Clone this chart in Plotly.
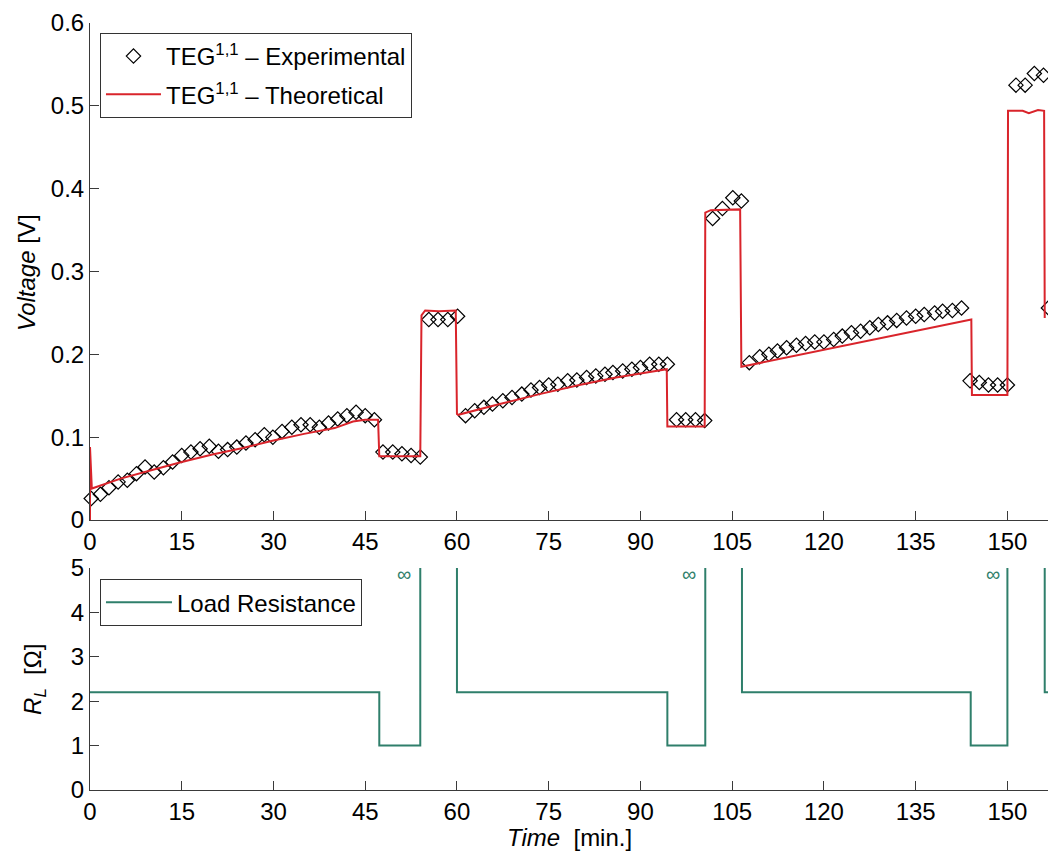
import plotly.graph_objects as go

# ---------------- data ----------------
t_exp = [0.2, 1.7, 3.1, 4.6, 6.1, 7.6, 9.0, 10.5, 12.0, 13.5, 15.0, 16.5, 18.0, 19.5, 21.0, 22.5,
         24.0, 25.5, 27.0, 28.5, 29.9, 31.4, 33.0, 34.5, 36.0, 37.5, 39.0, 40.5, 42.0, 43.5, 45.0, 46.5,
         47.9, 49.5, 51.0, 52.5, 54.0,
         55.4, 56.9, 58.5, 60.1,
         61.4, 62.9, 64.4, 65.8, 67.5, 69.0, 70.6, 72.1, 73.5, 75.0, 76.5, 78.1, 79.6, 81.2, 82.7,
         84.2, 85.5, 87.1, 88.6, 90.0, 91.5, 93.0, 94.4,
         95.9, 97.4, 99.0, 100.5,
         101.8, 103.4, 105.1, 106.5,
         107.8, 109.5, 111.0, 112.4, 113.9, 115.5, 117.0, 118.5, 120.0, 121.6, 123.0, 124.5, 126.0,
         127.5, 128.9, 130.4, 131.9, 133.5, 135.0, 136.4, 138.1, 139.4, 141.0, 142.5,
         143.9, 145.4, 146.9, 148.4, 150.0,
         151.4, 152.9, 154.4, 155.9,
         156.7]
v_exp = [0.026, 0.031, 0.039, 0.046, 0.048, 0.056, 0.064, 0.058, 0.063, 0.070, 0.078, 0.082, 0.086, 0.089, 0.083, 0.085,
         0.088, 0.093, 0.097, 0.103, 0.100, 0.107, 0.112, 0.115, 0.115, 0.112, 0.117, 0.122, 0.126, 0.130, 0.126, 0.121,
         0.082, 0.082, 0.080, 0.078, 0.076,
         0.242, 0.242, 0.242, 0.246,
         0.126, 0.132, 0.136, 0.140, 0.144, 0.148, 0.152, 0.157, 0.160, 0.163, 0.164, 0.168, 0.169, 0.172, 0.174,
         0.176, 0.178, 0.180, 0.182, 0.184, 0.188, 0.188, 0.188,
         0.121, 0.121, 0.121, 0.120,
         0.364, 0.376, 0.389, 0.385,
         0.190, 0.197, 0.200, 0.204, 0.208, 0.211, 0.213, 0.215, 0.215, 0.218, 0.222, 0.226, 0.228,
         0.232, 0.236, 0.238, 0.241, 0.244, 0.246, 0.248, 0.250, 0.252, 0.253, 0.256,
         0.168, 0.166, 0.163, 0.163, 0.163,
         0.525, 0.525, 0.539, 0.537,
         0.256]

t_theo = [0.0, 0.0, 0.3, 5, 10, 15, 20, 25, 30, 35, 40, 43, 45, 47.1, 47.3, 54.0,
          54.2, 54.8, 57.0, 59.8, 60.0, 60.2, 67.0, 73.5, 80.0, 86.0, 90.0, 94.3, 94.4, 100.5,
          100.6, 101.5, 106.3, 106.5, 144.1, 144.2, 150.0, 150.1, 152.5, 153.5, 155.0, 156.0, 156.1]
v_theo = [0.0, 0.088, 0.038, 0.050, 0.060, 0.070, 0.079, 0.087, 0.096, 0.104, 0.111, 0.119, 0.121, 0.121, 0.077, 0.077,
          0.247, 0.253, 0.252, 0.253, 0.128, 0.127, 0.140, 0.152, 0.163, 0.172, 0.177, 0.182, 0.113, 0.113,
          0.371, 0.374, 0.375, 0.185, 0.242, 0.151, 0.151, 0.494, 0.494, 0.491, 0.495, 0.494, 0.244]

t_load = [0.0, 47.3, 54.0, 60.0, 94.4, 100.6, 106.6, 144.0, 150.0, 156.1, 156.8]
r_load = [2.2, 1.0, "inf", 2.2, 1.0, "inf", 2.2, 1.0, "inf", 2.2, 2.2]
inf_label_t = [51.4, 98.0, 147.6]

x_ticks = [0, 15, 30, 45, 60, 75, 90, 105, 120, 135, 150]
v_ticks = [0, 0.1, 0.2, 0.3, 0.4, 0.5, 0.6]
r_ticks = [0, 1, 2, 3, 4, 5]

# ---------------- styling ----------------
FONT = "Liberation Sans, Arial, Helvetica, sans-serif"
FS = 24
RED = "#d9242b"
GREEN = "#2f7f6b"
AX = "#3a3a3a"
OFFSCALE = 1000.0   # infinite resistance drawn off the top of the axis
r_plot = [OFFSCALE if r == "inf" else r for r in r_load]

fig = go.Figure()
fig.add_trace(go.Scatter(
    x=t_exp, y=v_exp, mode="markers", name="TEG<sup>1,1</sup> – Experimental",
    marker=dict(symbol="diamond-open", size=11, color="black", line=dict(width=1.2, color="black")),
    cliponaxis=False, xaxis="x", yaxis="y", legend="legend", legendgroup="a"))
fig.add_trace(go.Scatter(
    x=t_theo, y=v_theo, mode="lines", name="TEG<sup>1,1</sup> – Theoretical",
    line=dict(color=RED, width=2), xaxis="x", yaxis="y", legend="legend", legendgroup="b"))
fig.add_trace(go.Scatter(
    x=t_load, y=r_plot, mode="lines", name="Load Resistance", line_shape="hv",
    line=dict(color=GREEN, width=2), xaxis="x2", yaxis="y2", legend="legend2"))

common_axis = dict(showgrid=False, zeroline=False, showline=True, linecolor=AX, linewidth=1,
                   ticks="inside", ticklen=9, tickwidth=1, tickcolor=AX, automargin=False,
                   ticklabeloverflow="allow",
                   tickfont=dict(family=FONT, size=FS, color="black"), mirror=False)

# page body adds an 8px offset, so the figure is 8px smaller and margins shifted
fig.update_layout(
    width=1048, height=850,
    margin=dict(l=82, r=7, t=15, b=68),
    paper_bgcolor="white", plot_bgcolor="white",
    font=dict(family=FONT, size=FS, color="black"),
    xaxis=dict(domain=[0, 1], anchor="y", range=[0, 156.8], tickvals=x_ticks, **common_axis),
    yaxis=dict(domain=[0.3520, 1], anchor="x", range=[0, 0.6], tickvals=v_ticks,
               ticktext=[("%g" % v) for v in v_ticks], **common_axis),
    xaxis2=dict(domain=[0, 1], anchor="y2", range=[0, 156.8], tickvals=x_ticks, **common_axis),
    yaxis2=dict(domain=[0, 0.2894], anchor="x2", range=[0, 5], tickvals=r_ticks, **common_axis),
    legend=dict(x=0.0104, y=0.987, xanchor="left", yanchor="top", bgcolor="white",
                bordercolor="#333", borderwidth=1, itemwidth=55, tracegroupgap=4,
                font=dict(family=FONT, size=FS, color="black")),
    legend2=dict(x=0.0104, y=0.275, xanchor="left", yanchor="top", bgcolor="white",
                 bordercolor="#333", borderwidth=1, itemwidth=66,
                 font=dict(family=FONT, size=FS, color="black")),
    showlegend=True,
)

annotations = [
    dict(text="<i>Voltage</i> [V]", xref="paper", yref="paper", x=-0.066, y=0.675,
         textangle=-90, showarrow=False, xanchor="center", yanchor="middle",
         font=dict(family=FONT, size=FS, color="black")),
    dict(text="<i>R<sub>L</sub></i>  [Ω]", xref="paper", yref="paper", x=-0.058, y=0.144,
         textangle=-90, showarrow=False, xanchor="center", yanchor="middle",
         font=dict(family=FONT, size=FS, color="black")),
    dict(text="<i>Time</i>  [min.]", xref="paper", yref="paper", x=0.5, y=-0.062,
         showarrow=False, xanchor="center", yanchor="middle",
         font=dict(family=FONT, size=FS, color="black")),
]
for t in inf_label_t:
    annotations.append(dict(text="∞", x=t, y=4.86, xref="x2", yref="y2", showarrow=False,
                            xanchor="center", yanchor="middle",
                            font=dict(family=FONT, size=20, color=GREEN)))
fig.update_layout(annotations=annotations)

fig.write_html("out.html")
